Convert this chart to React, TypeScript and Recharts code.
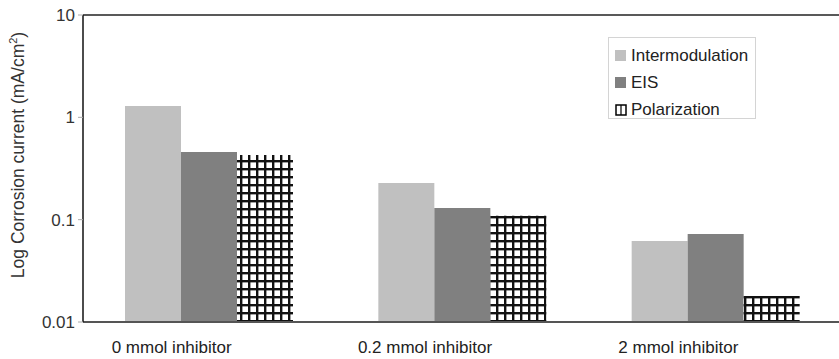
import React from 'react';
import { BarChart, Bar, XAxis, YAxis, Legend, ReferenceLine } from 'recharts';

// Corrosion current by inhibitor concentration, three measurement methods
const categories = ['0 mmol inhibitor', '0.2 mmol inhibitor', '2 mmol inhibitor'];
const intermodulation = [1.29, 0.228, 0.062];
const eis = [0.458, 0.13, 0.0724];
const polarization = [0.428, 0.109, 0.018];
const yTicks = [0.01, 0.1, 1, 10];

const data = categories.map((name, i) => ({
  name,
  intermodulation: intermodulation[i],
  eis: eis[i],
  polarization: polarization[i],
}));

const FONT = '"Liberation Sans", Arial, sans-serif';

const CategoryTick = ({ x, y, payload }: any) => (
  <text x={x - 38} y={y + 23} textAnchor="middle" fontSize={17} fontFamily={FONT} fill="#222">
    {payload.value}
  </text>
);

const YLabel = () => (
  <text
    x={24}
    y={155}
    transform="rotate(-90 24 155)"
    textAnchor="middle"
    fontSize={17.5}
    fontFamily={FONT}
    fill="#333"
  >
    Log Corrosion current (mA/cm
    <tspan fontSize={11} dy={-7}>2</tspan>
    <tspan dy={7}>)</tspan>
  </text>
);

const legendRows = [
  { label: 'Intermodulation', fill: '#c0c0c0' },
  { label: 'EIS', fill: '#808080' },
  { label: 'Polarization', fill: 'hatch' },
];

const LegendBox = () => (
  <div
    style={{
      border: '1px solid #d4d4d4',
      width: 148,
      height: 82,
      boxSizing: 'border-box',
      padding: '4px 0 0 6px',
      fontFamily: FONT,
      fontSize: 17,
      color: '#222',
      background: '#fff',
    }}
  >
    {legendRows.map((r) => (
      <div key={r.label} style={{ display: 'flex', alignItems: 'center', height: 27 }}>
        <svg width={12} height={12} style={{ marginRight: 4 }}>
          {r.fill === 'hatch' ? (
            <>
              <rect x={1} y={1} width={10} height={10} fill="#fff" stroke="#000" strokeWidth={1.5} />
              <line x1={6} y1={1} x2={6} y2={11} stroke="#000" strokeWidth={1.2} />
            </>
          ) : (
            <rect x={0} y={0} width={11} height={11} fill={r.fill} />
          )}
        </svg>
        <span>{r.label}</span>
      </div>
    ))}
  </div>
);

export default function App() {
  return (
    <div style={{ position: 'absolute', left: 0, top: 0, background: '#fff' }}>
      <BarChart
        width={839}
        height={359}
        data={data}
        margin={{ top: 15, right: -4, bottom: 0, left: 0 }}
        barCategoryGap={42}
        barGap={0}
      >
        <defs>
          <pattern id="gridHatch" width={8} height={8} patternUnits="userSpaceOnUse">
            <rect width={8} height={8} fill="#fff" />
            <rect x={0} y={0} width={2.4} height={8} fill="#111" />
            <rect x={0} y={0} width={8} height={2.4} fill="#111" />
          </pattern>
        </defs>
        <XAxis
          dataKey="name"
          height={37}
          tickLine={false}
          axisLine={{ stroke: '#555', strokeWidth: 2 }}
          tick={<CategoryTick />}
          interval={0}
        />
        <YAxis
          scale="log"
          domain={[0.01, 10]}
          ticks={yTicks}
          allowDataOverflow
          width={83}
          tickSize={5}
          tickMargin={3}
          tickLine={{ stroke: '#aaa' }}
          axisLine={{ stroke: '#111', strokeWidth: 1.5 }}
          tick={{ fontSize: 17, fontFamily: FONT, fill: '#333' }}
          tickFormatter={(v: number) => String(v)}
          label={<YLabel />}
        />
        <ReferenceLine y={10} stroke="#222" strokeWidth={1.5} />
        <Legend
          layout="vertical"
          align="center"
          verticalAlign="middle"
          content={<LegendBox />}
          wrapperStyle={{ left: 608, top: 37, width: 148, height: 82 }}
        />
        <Bar dataKey="intermodulation" name="Intermodulation" fill="#c0c0c0" isAnimationActive={false} />
        <Bar dataKey="eis" name="EIS" fill="#808080" isAnimationActive={false} />
        <Bar dataKey="polarization" name="Polarization" fill="url(#gridHatch)" isAnimationActive={false} />
      </BarChart>
    </div>
  );
}
